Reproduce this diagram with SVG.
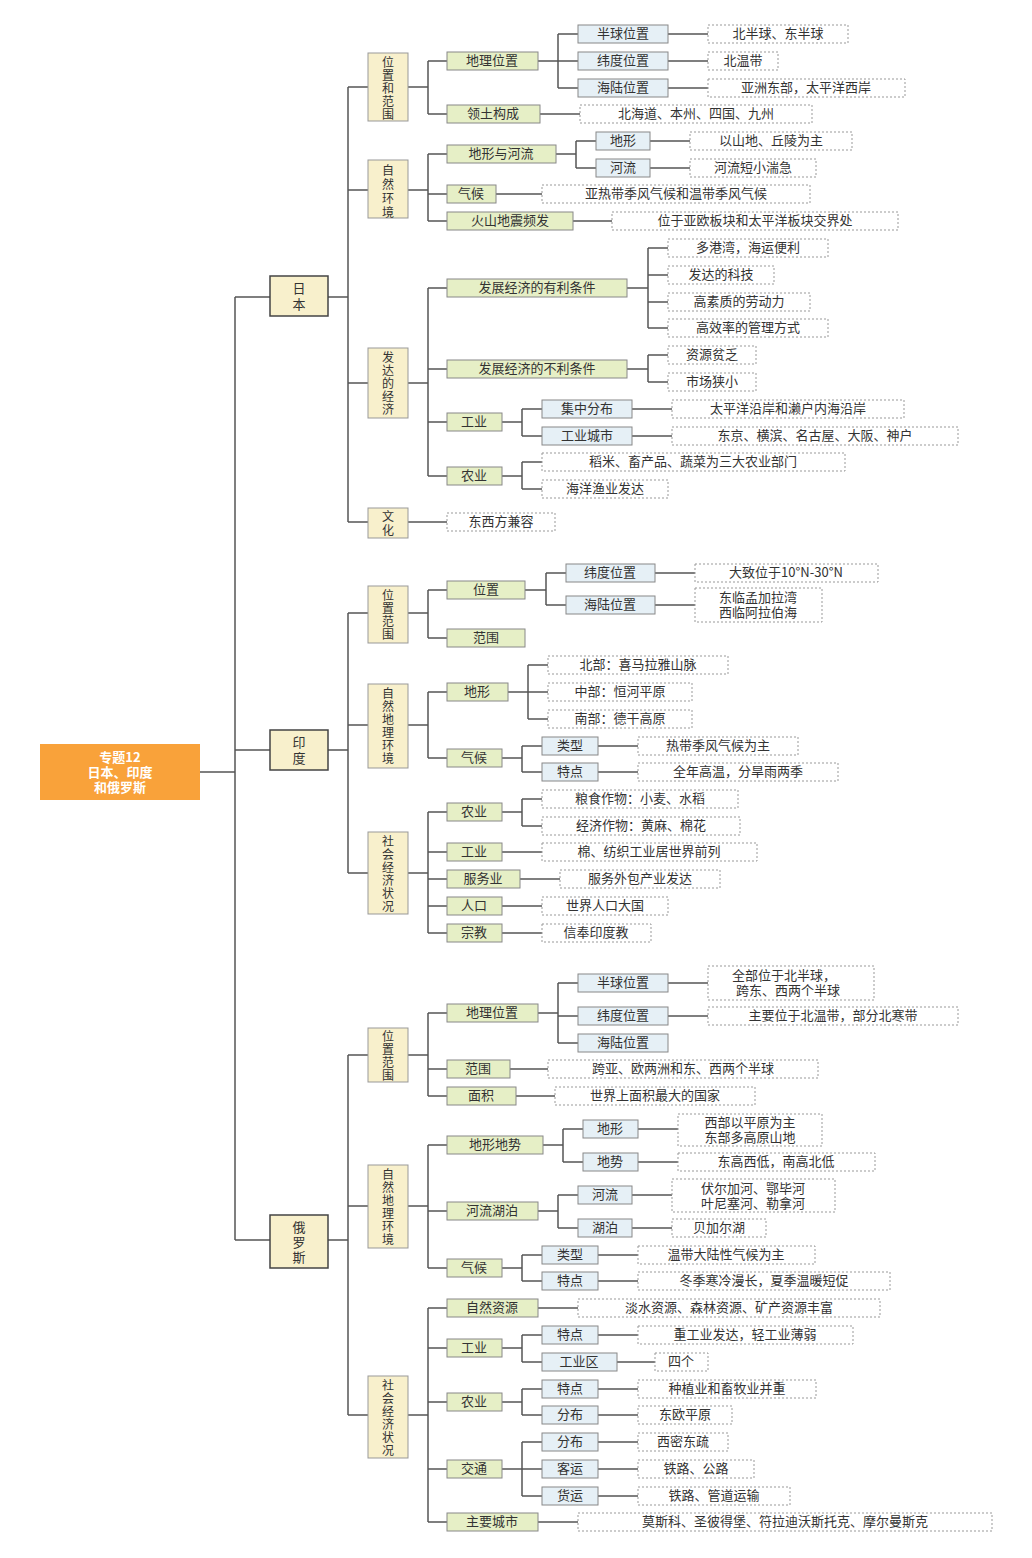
<svg xmlns="http://www.w3.org/2000/svg" width="1032" height="1558" viewBox="0 0 1032 1558">
<style>
text{font-family:"Noto Sans CJK SC","Liberation Sans",sans-serif;font-size:13px;fill:#333;text-anchor:middle}
.l1{fill:#f8f0cc;stroke:#444;stroke-width:1.5}
.l2{fill:#f8f0cc;stroke:#999;stroke-width:1}
.l3{fill:#e6efc6;stroke:#888;stroke-width:1}
.l4{fill:#e6f0f6;stroke:#888;stroke-width:1}
.lf{fill:#fff;stroke:#999;stroke-width:1;stroke-dasharray:2 2}
.c path{fill:none;stroke:#555;stroke-width:1.5}
.v{font-size:12px}
.big{font-size:13px}
.root{fill:#fff;font-weight:bold;font-size:13px}
</style>
<rect width="1032" height="1558" fill="#fff"/>
<g class="c" id="connectors"><path d="M200 772H235M235 297V1240M235 297H270M235 750H270M235 1240H270
M328 297H348M348 87V522M348 87H368M348 190H368M348 383H368M348 522H368
M408 87H428M428 61V114M428 61H447M428 114H447M538 61H558M558 34V88M558 34H578M558 61H578M558 88H578M668 34H708M668 61H708M668 88H708M540 114H580
M408 190H428M428 154V221M428 154H447M428 194H447M428 221H447M556 154H576M576 141V168M576 141H596M576 168H596M650 141H690M650 168H690M496 194H542M573 221H612
M408 383H428M428 288V476M428 288H447M428 369H447M428 422H447M428 476H447M627 288H648M648 248V328M648 248H668M648 275H668M648 302H668M648 328H668M627 369H648M648 355V382M648 355H668M648 382H668
M502 422H522M522 409V436M522 409H542M522 436H542M632 409H672M632 436H672M502 476H522M522 462V489M522 462H542M522 489H542M408 522H447
M328 750H348M348 613V873M348 613H368M348 725H368M348 873H368M408 613H428M428 590V638M428 590H447M428 638H447M525 590H546M546 573V605M546 573H566M546 605H566M655 573H695M655 605H695
M408 725H428M428 692V758M428 692H447M428 758H447M508 692H528M528 665V719M528 665H548M528 692H548M528 719H548M502 758H522M522 746V772M522 746H542M522 772H542M598 746H638M598 772H638
M408 873H428M428 812V933M428 812H447M428 852H447M428 879H447M428 906H447M428 933H447M502 812H522M522 799V826M522 799H542M522 826H542M502 852H542M520 879H560M502 906H542M502 933H542
M328 1240H348M348 1055V1415M348 1055H368M348 1206H368M348 1415H368M408 1055H428M428 1013V1096M428 1013H447M428 1069H447M428 1096H447M538 1013H558M558 983V1043M558 983H578M558 1016H578M558 1043H578M668 983H708M668 1016H708M510 1069H548M516 1096H555
M408 1206H428M428 1145V1268M428 1145H447M428 1211H447M428 1268H447M543 1145H563M563 1129V1162M563 1129H583M563 1162H583M638 1129H678M638 1162H678M538 1211H558M558 1195V1228M558 1195H578M558 1228H578M632 1195H672M632 1228H672M502 1268H522M522 1255V1281M522 1255H542M522 1281H542M598 1255H638M598 1281H638
M408 1415H428M428 1308V1522M428 1308H447M428 1348H447M428 1402H447M428 1469H447M428 1522H447M538 1308H578M502 1348H522M522 1335V1362M522 1335H542M522 1362H542M598 1335H638M617 1362H655M502 1402H522M522 1389V1415M522 1389H542M522 1415H542M598 1389H638M598 1415H638M502 1469H522M522 1442V1496M522 1442H542M522 1469H542M522 1496H542M598 1442H638M598 1469H638M598 1496H638M538 1522H578"/></g>

<g id="root"><rect x="40" y="744" width="160" height="56" fill="#f9a23a"/><text class="root" x="120" y="762">专题12</text><text class="root" x="120" y="777">日本、印度</text><text class="root" x="120" y="792">和俄罗斯</text></g>
<g id="japan"><rect class="l1" x="270" y="276" width="58" height="40"/><text class="big" x="299" y="293">日</text><text class="big" x="299" y="309">本</text></g>
<g id="india"><rect class="l1" x="270" y="730" width="58" height="40"/><text class="big" x="299" y="747">印</text><text class="big" x="299" y="763">度</text></g>
<g id="russia"><rect class="l1" x="270" y="1215" width="58" height="53"/><text class="big" x="299" y="1232">俄</text><text class="big" x="299" y="1247">罗</text><text class="big" x="299" y="1262">斯</text></g>

<g id="jp-pos" class="v"><rect class="l2" x="368" y="53" width="40" height="68"/><text class="v" x="388" y="67">位</text><text class="v" x="388" y="80">置</text><text class="v" x="388" y="93">和</text><text class="v" x="388" y="106">范</text><text class="v" x="388" y="119">围</text></g>
<g id="jp-nat"><rect class="l2" x="368" y="160" width="40" height="58"/><text class="v" x="388" y="175">自</text><text class="v" x="388" y="189">然</text><text class="v" x="388" y="203">环</text><text class="v" x="388" y="217">境</text></g>
<g id="jp-eco"><rect class="l2" x="368" y="348" width="40" height="70"/><text class="v" x="388" y="362">发</text><text class="v" x="388" y="375">达</text><text class="v" x="388" y="388">的</text><text class="v" x="388" y="401">经</text><text class="v" x="388" y="414">济</text></g>
<g id="jp-cul"><rect class="l2" x="368" y="508" width="40" height="30"/><text class="v" x="388" y="521">文</text><text class="v" x="388" y="535">化</text></g>

<g id="jp-a"><rect class="l3" x="447" y="52" width="91" height="18"/><text x="492" y="65">地理位置</text></g>
<g id="jp-a1"><rect class="l4" x="578" y="25" width="90" height="18"/><text x="623" y="38">半球位置</text><rect class="lf" x="708" y="25" width="140" height="18"/><text x="778" y="38">北半球、东半球</text></g>
<g id="jp-a2"><rect class="l4" x="578" y="52" width="90" height="18"/><text x="623" y="65">纬度位置</text><rect class="lf" x="708" y="52" width="70" height="18"/><text x="743" y="65">北温带</text></g>
<g id="jp-a3"><rect class="l4" x="578" y="79" width="90" height="18"/><text x="623" y="92">海陆位置</text><rect class="lf" x="708" y="79" width="197" height="18"/><text x="806" y="92">亚洲东部，太平洋西岸</text></g>
<g id="jp-b"><rect class="l3" x="447" y="105" width="93" height="18"/><text x="493" y="118">领土构成</text><rect class="lf" x="580" y="105" width="232" height="18"/><text x="696" y="118">北海道、本州、四国、九州</text></g>
<g id="jp-c"><rect class="l3" x="447" y="145" width="109" height="18"/><text x="501" y="158">地形与河流</text></g>
<g id="jp-c1"><rect class="l4" x="596" y="132" width="54" height="18"/><text x="623" y="145">地形</text><rect class="lf" x="690" y="132" width="162" height="18"/><text x="771" y="145">以山地、丘陵为主</text></g>
<g id="jp-c2"><rect class="l4" x="596" y="159" width="54" height="18"/><text x="623" y="172">河流</text><rect class="lf" x="690" y="159" width="126" height="18"/><text x="753" y="172">河流短小湍急</text></g>
<g id="jp-d"><rect class="l3" x="447" y="185" width="49" height="18"/><text x="471" y="198">气候</text><rect class="lf" x="542" y="185" width="268" height="18"/><text x="676" y="198">亚热带季风气候和温带季风气候</text></g>
<g id="jp-e"><rect class="l3" x="447" y="212" width="126" height="18"/><text x="510" y="225">火山地震频发</text><rect class="lf" x="612" y="212" width="286" height="18"/><text x="755" y="225">位于亚欧板块和太平洋板块交界处</text></g>
<g id="jp-f"><rect class="l3" x="447" y="279" width="180" height="18"/><text x="537" y="292">发展经济的有利条件</text></g>
<g id="jp-f1"><rect class="lf" x="668" y="239" width="160" height="18"/><text x="748" y="252">多港湾，海运便利</text></g>
<g id="jp-f2"><rect class="lf" x="668" y="266" width="106" height="18"/><text x="721" y="279">发达的科技</text></g>
<g id="jp-f3"><rect class="lf" x="668" y="293" width="142" height="18"/><text x="739" y="306">高素质的劳动力</text></g>
<g id="jp-f4"><rect class="lf" x="668" y="319" width="160" height="18"/><text x="748" y="332">高效率的管理方式</text></g>
<g id="jp-g"><rect class="l3" x="447" y="360" width="180" height="18"/><text x="537" y="373">发展经济的不利条件</text></g>
<g id="jp-g1"><rect class="lf" x="668" y="346" width="88" height="18"/><text x="712" y="359">资源贫乏</text></g>
<g id="jp-g2"><rect class="lf" x="668" y="373" width="88" height="18"/><text x="712" y="386">市场狭小</text></g>
<g id="jp-h"><rect class="l3" x="447" y="413" width="55" height="18"/><text x="474" y="426">工业</text></g>
<g id="jp-h1"><rect class="l4" x="542" y="400" width="90" height="18"/><text x="587" y="413">集中分布</text><rect class="lf" x="672" y="400" width="232" height="18"/><text x="788" y="413">太平洋沿岸和濑户内海沿岸</text></g>
<g id="jp-h2"><rect class="l4" x="542" y="427" width="90" height="18"/><text x="587" y="440">工业城市</text><rect class="lf" x="672" y="427" width="286" height="18"/><text x="815" y="440">东京、横滨、名古屋、大阪、神户</text></g>
<g id="jp-i"><rect class="l3" x="447" y="467" width="55" height="18"/><text x="474" y="480">农业</text></g>
<g id="jp-i1"><rect class="lf" x="542" y="453" width="303" height="18"/><text x="693" y="466">稻米、畜产品、蔬菜为三大农业部门</text></g>
<g id="jp-i2"><rect class="lf" x="542" y="480" width="126" height="18"/><text x="605" y="493">海洋渔业发达</text></g>
<g id="jp-j"><rect class="lf" x="447" y="513" width="108" height="18"/><text x="501" y="526">东西方兼容</text></g>

<g id="in-pos"><rect class="l2" x="368" y="586" width="40" height="57"/><text class="v" x="388" y="600">位</text><text class="v" x="388" y="613">置</text><text class="v" x="388" y="626">范</text><text class="v" x="388" y="639">围</text></g>
<g id="in-nat"><rect class="l2" x="368" y="684" width="40" height="84"/><text class="v" x="388" y="698">自</text><text class="v" x="388" y="711">然</text><text class="v" x="388" y="724">地</text><text class="v" x="388" y="737">理</text><text class="v" x="388" y="750">环</text><text class="v" x="388" y="763">境</text></g>
<g id="in-soc"><rect class="l2" x="368" y="832" width="40" height="82"/><text class="v" x="388" y="846">社</text><text class="v" x="388" y="859">会</text><text class="v" x="388" y="872">经</text><text class="v" x="388" y="885">济</text><text class="v" x="388" y="898">状</text><text class="v" x="388" y="911">况</text></g>
<g id="in-a"><rect class="l3" x="447" y="581" width="78" height="18"/><text x="486" y="594">位置</text></g>
<g id="in-a1"><rect class="l4" x="566" y="564" width="89" height="18"/><text x="610" y="577">纬度位置</text><rect class="lf" x="695" y="564" width="183" height="18"/><text x="786" y="577">大致位于10°N-30°N</text></g>
<g id="in-a2"><rect class="l4" x="566" y="596" width="89" height="18"/><text x="610" y="609">海陆位置</text><rect class="lf" x="695" y="588" width="127" height="34"/><text x="758" y="602">东临孟加拉湾</text><text x="758" y="617">西临阿拉伯海</text></g>
<g id="in-b"><rect class="l3" x="447" y="629" width="78" height="18"/><text x="486" y="642">范围</text></g>
<g id="in-c"><rect class="l3" x="447" y="683" width="61" height="18"/><text x="477" y="696">地形</text></g>
<g id="in-c1"><rect class="lf" x="548" y="656" width="180" height="18"/><text x="638" y="669">北部：喜马拉雅山脉</text></g>
<g id="in-c2"><rect class="lf" x="548" y="683" width="144" height="18"/><text x="620" y="696">中部：恒河平原</text></g>
<g id="in-c3"><rect class="lf" x="548" y="710" width="144" height="18"/><text x="620" y="723">南部：德干高原</text></g>
<g id="in-d"><rect class="l3" x="447" y="749" width="55" height="18"/><text x="474" y="762">气候</text></g>
<g id="in-d1"><rect class="l4" x="542" y="737" width="56" height="18"/><text x="570" y="750">类型</text><rect class="lf" x="638" y="737" width="160" height="18"/><text x="718" y="750">热带季风气候为主</text></g>
<g id="in-d2"><rect class="l4" x="542" y="763" width="56" height="18"/><text x="570" y="776">特点</text><rect class="lf" x="638" y="763" width="200" height="18"/><text x="738" y="776">全年高温，分旱雨两季</text></g>
<g id="in-e"><rect class="l3" x="447" y="803" width="55" height="18"/><text x="474" y="816">农业</text></g>
<g id="in-e1"><rect class="lf" x="542" y="790" width="196" height="18"/><text x="640" y="803">粮食作物：小麦、水稻</text></g>
<g id="in-e2"><rect class="lf" x="542" y="817" width="198" height="18"/><text x="641" y="830">经济作物：黄麻、棉花</text></g>
<g id="in-f"><rect class="l3" x="447" y="843" width="55" height="18"/><text x="474" y="856">工业</text><rect class="lf" x="542" y="843" width="215" height="18"/><text x="649" y="856">棉、纺织工业居世界前列</text></g>
<g id="in-g"><rect class="l3" x="447" y="870" width="73" height="18"/><text x="483" y="883">服务业</text><rect class="lf" x="560" y="870" width="160" height="18"/><text x="640" y="883">服务外包产业发达</text></g>
<g id="in-h"><rect class="l3" x="447" y="897" width="55" height="18"/><text x="474" y="910">人口</text><rect class="lf" x="542" y="897" width="126" height="18"/><text x="605" y="910">世界人口大国</text></g>
<g id="in-i"><rect class="l3" x="447" y="924" width="55" height="18"/><text x="474" y="937">宗教</text><rect class="lf" x="542" y="924" width="109" height="18"/><text x="596" y="937">信奉印度教</text></g>

<g id="ru-pos"><rect class="l2" x="368" y="1028" width="40" height="54"/><text class="v" x="388" y="1041">位</text><text class="v" x="388" y="1054">置</text><text class="v" x="388" y="1067">范</text><text class="v" x="388" y="1080">围</text></g>
<g id="ru-nat"><rect class="l2" x="368" y="1165" width="40" height="83"/><text class="v" x="388" y="1179">自</text><text class="v" x="388" y="1192">然</text><text class="v" x="388" y="1205">地</text><text class="v" x="388" y="1218">理</text><text class="v" x="388" y="1231">环</text><text class="v" x="388" y="1244">境</text></g>
<g id="ru-soc"><rect class="l2" x="368" y="1376" width="40" height="82"/><text class="v" x="388" y="1390">社</text><text class="v" x="388" y="1403">会</text><text class="v" x="388" y="1416">经</text><text class="v" x="388" y="1429">济</text><text class="v" x="388" y="1442">状</text><text class="v" x="388" y="1455">况</text></g>
<g id="ru-a"><rect class="l3" x="447" y="1004" width="91" height="18"/><text x="492" y="1017">地理位置</text></g>
<g id="ru-a1"><rect class="l4" x="578" y="974" width="90" height="18"/><text x="623" y="987">半球位置</text><rect class="lf" x="708" y="966" width="166" height="34"/><text x="784" y="980">全部位于北半球，</text><text x="788" y="995">跨东、西两个半球</text></g>
<g id="ru-a2"><rect class="l4" x="578" y="1007" width="90" height="18"/><text x="623" y="1020">纬度位置</text><rect class="lf" x="708" y="1007" width="250" height="18"/><text x="833" y="1020">主要位于北温带，部分北寒带</text></g>
<g id="ru-a3"><rect class="l4" x="578" y="1034" width="90" height="18"/><text x="623" y="1047">海陆位置</text></g>
<g id="ru-b"><rect class="l3" x="447" y="1060" width="63" height="18"/><text x="478" y="1073">范围</text><rect class="lf" x="548" y="1060" width="270" height="18"/><text x="683" y="1073">跨亚、欧两洲和东、西两个半球</text></g>
<g id="ru-c"><rect class="l3" x="447" y="1087" width="69" height="18"/><text x="481" y="1100">面积</text><rect class="lf" x="555" y="1087" width="200" height="18"/><text x="655" y="1100">世界上面积最大的国家</text></g>
<g id="ru-d"><rect class="l3" x="447" y="1136" width="96" height="18"/><text x="495" y="1149">地形地势</text></g>
<g id="ru-d1"><rect class="l4" x="583" y="1120" width="55" height="18"/><text x="610" y="1133">地形</text><rect class="lf" x="678" y="1114" width="144" height="32"/><text x="750" y="1127">西部以平原为主</text><text x="750" y="1142">东部多高原山地</text></g>
<g id="ru-d2"><rect class="l4" x="583" y="1153" width="55" height="18"/><text x="610" y="1166">地势</text><rect class="lf" x="678" y="1153" width="197" height="18"/><text x="776" y="1166">东高西低，南高北低</text></g>
<g id="ru-e"><rect class="l3" x="447" y="1202" width="91" height="18"/><text x="492" y="1215">河流湖泊</text></g>
<g id="ru-e1"><rect class="l4" x="578" y="1186" width="54" height="18"/><text x="605" y="1199">河流</text><rect class="lf" x="672" y="1179" width="163" height="33"/><text x="753" y="1193">伏尔加河、鄂毕河</text><text x="753" y="1208">叶尼塞河、勒拿河</text></g>
<g id="ru-e2"><rect class="l4" x="578" y="1219" width="54" height="18"/><text x="605" y="1232">湖泊</text><rect class="lf" x="672" y="1219" width="94" height="18"/><text x="719" y="1232">贝加尔湖</text></g>
<g id="ru-f"><rect class="l3" x="447" y="1259" width="55" height="18"/><text x="474" y="1272">气候</text></g>
<g id="ru-f1"><rect class="l4" x="542" y="1246" width="56" height="18"/><text x="570" y="1259">类型</text><rect class="lf" x="638" y="1246" width="177" height="18"/><text x="726" y="1259">温带大陆性气候为主</text></g>
<g id="ru-f2"><rect class="l4" x="542" y="1272" width="56" height="18"/><text x="570" y="1285">特点</text><rect class="lf" x="638" y="1272" width="252" height="18"/><text x="764" y="1285">冬季寒冷漫长，夏季温暖短促</text></g>
<g id="ru-g"><rect class="l3" x="447" y="1299" width="91" height="18"/><text x="492" y="1312">自然资源</text><rect class="lf" x="578" y="1299" width="302" height="18"/><text x="729" y="1312">淡水资源、森林资源、矿产资源丰富</text></g>
<g id="ru-h"><rect class="l3" x="447" y="1339" width="55" height="18"/><text x="474" y="1352">工业</text></g>
<g id="ru-h1"><rect class="l4" x="542" y="1326" width="56" height="18"/><text x="570" y="1339">特点</text><rect class="lf" x="638" y="1326" width="215" height="18"/><text x="745" y="1339">重工业发达，轻工业薄弱</text></g>
<g id="ru-h2"><rect class="l4" x="542" y="1353" width="75" height="18"/><text x="579" y="1366">工业区</text><rect class="lf" x="655" y="1353" width="53" height="18"/><text x="681" y="1366">四个</text></g>
<g id="ru-i"><rect class="l3" x="447" y="1393" width="55" height="18"/><text x="474" y="1406">农业</text></g>
<g id="ru-i1"><rect class="l4" x="542" y="1380" width="56" height="18"/><text x="570" y="1393">特点</text><rect class="lf" x="638" y="1380" width="178" height="18"/><text x="727" y="1393">种植业和畜牧业并重</text></g>
<g id="ru-i2"><rect class="l4" x="542" y="1406" width="56" height="18"/><text x="570" y="1419">分布</text><rect class="lf" x="638" y="1406" width="94" height="18"/><text x="685" y="1419">东欧平原</text></g>
<g id="ru-j"><rect class="l3" x="447" y="1460" width="55" height="18"/><text x="474" y="1473">交通</text></g>
<g id="ru-j1"><rect class="l4" x="542" y="1433" width="56" height="18"/><text x="570" y="1446">分布</text><rect class="lf" x="638" y="1433" width="90" height="18"/><text x="683" y="1446">西密东疏</text></g>
<g id="ru-j2"><rect class="l4" x="542" y="1460" width="56" height="18"/><text x="570" y="1473">客运</text><rect class="lf" x="638" y="1460" width="116" height="18"/><text x="696" y="1473">铁路、公路</text></g>
<g id="ru-j3"><rect class="l4" x="542" y="1487" width="56" height="18"/><text x="570" y="1500">货运</text><rect class="lf" x="638" y="1487" width="152" height="18"/><text x="714" y="1500">铁路、管道运输</text></g>
<g id="ru-k"><rect class="l3" x="447" y="1513" width="91" height="18"/><text x="492" y="1526">主要城市</text><rect class="lf" x="578" y="1513" width="414" height="18"/><text x="785" y="1526">莫斯科、圣彼得堡、符拉迪沃斯托克、摩尔曼斯克</text></g>
</svg>
